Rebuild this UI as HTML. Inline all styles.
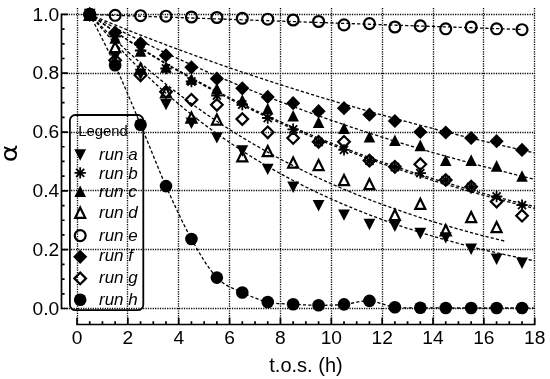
<!DOCTYPE html>
<html><head><meta charset="utf-8"><title>alpha vs t.o.s.</title>
<style>
html,body{margin:0;padding:0;background:#fff}
svg{display:block}
text{font-family:"Liberation Sans",sans-serif;fill:#000}
.g{stroke:#000;stroke-width:1.35;stroke-dasharray:1.2 1.2;fill:none}
.ax{stroke:#000;stroke-width:1.7;fill:none;stroke-linecap:butt}
.c{stroke:#000;stroke-width:1.3;stroke-dasharray:3.2 2.15;fill:none}
.m path,.m circle{fill:#000;stroke:none}
.m .o{fill:none;stroke:#000;stroke-width:2.2;stroke-linejoin:miter}
.m .s{fill:none;stroke:#000;stroke-width:1.8}
.tk{font-size:19.2px}
.lg{font-size:17px;font-style:italic}
</style></head><body>
<svg width="550" height="379" viewBox="0 0 550 379">
<rect width="550" height="379" fill="#fff"/>
<path class="g" d="M77.5 8V324.5M127.5 8V324.5M178.5 8V324.5M229.5 8V324.5M280.5 8V324.5M331.5 8V324.5M382.5 8V324.5M433.5 8V324.5M483.5 8V324.5M534.5 8V324.5M61.5 308.5H534.74M61.5 249.5H534.74M61.5 190.5H534.74M61.5 132.5H534.74M61.5 73.5H534.74M61.5 14.5H534.74"/>
<path class="c" d="M89.72 14.4L96.07 21.95L102.43 29.3L108.79 36.47L115.14 43.45L121.5 50.25L127.86 56.88L134.22 63.34L140.57 69.63L146.93 75.76L153.29 81.73L159.65 87.55L166 93.22L172.36 98.75L178.72 104.13L185.08 109.38L191.44 114.49L197.79 119.47L204.15 124.32L210.51 129.05L216.87 133.65L223.22 138.14L229.58 142.51L235.94 146.77L242.29 150.92L248.65 154.97L255.01 158.91L261.37 162.75L267.73 166.49L274.08 170.13L280.44 173.68L286.8 177.14L293.15 180.51L299.51 183.8L305.87 187L312.23 190.12L318.59 193.16L324.94 196.12L331.3 199L337.66 201.81L344.01 204.55L350.37 207.22L356.73 209.82L363.09 212.35L369.44 214.82L375.8 217.22L382.16 219.56L388.52 221.85L394.88 224.07L401.23 226.24L407.59 228.35L413.95 230.41L420.31 232.41L426.66 234.36L433.02 236.27L439.38 238.12L445.74 239.93L452.09 241.69L458.45 243.4L464.81 245.07L471.17 246.7L477.52 248.29L483.88 249.83L490.24 251.34L496.59 252.8L502.95 254.23L509.31 255.63L515.67 256.98L522.02 258.3L528.38 259.59L534.74 260.85"/>
<path class="c" d="M89.72 14.4L96.07 18.82L102.43 23.18L108.79 27.47L115.14 31.69L121.5 35.86L127.86 39.95L134.22 43.99L140.57 47.97L146.93 51.89L153.29 55.75L159.65 59.55L166 63.29L172.36 66.98L178.72 70.61L185.08 74.18L191.44 77.71L197.79 81.18L204.15 84.6L210.51 87.96L216.87 91.28L223.22 94.54L229.58 97.76L235.94 100.93L242.29 104.05L248.65 107.12L255.01 110.15L261.37 113.13L267.73 116.07L274.08 118.97L280.44 121.82L286.8 124.62L293.15 127.39L299.51 130.11L305.87 132.79L312.23 135.43L318.59 138.04L324.94 140.6L331.3 143.12L337.66 145.61L344.01 148.06L350.37 150.47L356.73 152.85L363.09 155.19L369.44 157.49L375.8 159.76L382.16 162L388.52 164.2L394.88 166.37L401.23 168.51L407.59 170.62L413.95 172.69L420.31 174.73L426.66 176.74L433.02 178.72L439.38 180.67L445.74 182.6L452.09 184.49L458.45 186.35L464.81 188.19L471.17 190L477.52 191.78L483.88 193.54L490.24 195.26L496.59 196.97L502.95 198.64L509.31 200.3L515.67 201.92L522.02 203.53L528.38 205.1L534.74 206.66"/>
<path class="c" d="M89.72 14.4L96.07 17.84L102.43 21.23L108.79 24.59L115.14 27.9L121.5 31.18L127.86 34.42L134.22 37.62L140.57 40.79L146.93 43.91L153.29 47L159.65 50.06L166 53.08L172.36 56.06L178.72 59.01L185.08 61.92L191.44 64.8L197.79 67.65L204.15 70.46L210.51 73.25L216.87 75.99L223.22 78.71L229.58 81.39L235.94 84.05L242.29 86.67L248.65 89.26L255.01 91.82L261.37 94.35L267.73 96.85L274.08 99.33L280.44 101.77L286.8 104.18L293.15 106.57L299.51 108.93L305.87 111.26L312.23 113.56L318.59 115.84L324.94 118.09L331.3 120.32L337.66 122.51L344.01 124.69L350.37 126.83L356.73 128.96L363.09 131.05L369.44 133.13L375.8 135.17L382.16 137.2L388.52 139.2L394.88 141.18L401.23 143.13L407.59 145.06L413.95 146.97L420.31 148.86L426.66 150.73L433.02 152.57L439.38 154.39L445.74 156.19L452.09 157.97L458.45 159.73L464.81 161.47L471.17 163.18L477.52 164.88L483.88 166.56L490.24 168.22L496.59 169.85L502.95 171.47L509.31 173.07L515.67 174.66L522.02 176.22L528.38 177.77L534.74 179.29"/>
<path class="c" d="M89.72 14.4L96.07 20.96L102.43 27.38L108.79 33.66L115.14 39.79L121.5 45.79L127.86 51.66L134.22 57.39L140.57 62.99L146.93 68.47L153.29 73.83L159.65 79.07L166 84.19L172.36 89.2L178.72 94.09L185.08 98.88L191.44 103.56L197.79 108.13L204.15 112.61L210.51 116.98L216.87 121.25L223.22 125.43L229.58 129.52L235.94 133.52L242.29 137.42L248.65 141.24L255.01 144.97L261.37 148.62L267.73 152.19L274.08 155.68L280.44 159.09L286.8 162.43L293.15 165.69L299.51 168.88L305.87 171.99L312.23 175.04L318.59 178.02L324.94 180.93L331.3 183.78L337.66 186.56L344.01 189.29L350.37 191.95L356.73 194.55L363.09 197.09L369.44 199.58L375.8 202.01L382.16 204.39L388.52 206.71L394.88 208.98L401.23 211.21L407.59 213.38L413.95 215.5L420.31 217.58L426.66 219.61L433.02 221.59L439.38 223.53L445.74 225.43L452.09 227.28L458.45 229.09L464.81 230.87L471.17 232.6L477.52 234.29L483.88 235.95L490.24 237.57L496.59 239.15L502.95 240.7L504.22 241.01"/>
<path class="c" d="M89.72 14.4L96.07 14.63L102.43 14.86L108.79 15.08L115.14 15.31L121.5 15.54L127.86 15.76L134.22 15.99L140.57 16.22L146.93 16.44L153.29 16.67L159.65 16.9L166 17.12L172.36 17.35L178.72 17.57L185.08 17.8L191.44 18.02L197.79 18.25L204.15 18.47L210.51 18.7L216.87 18.92L223.22 19.15L229.58 19.37L235.94 19.6L242.29 19.82L248.65 20.04L255.01 20.27L261.37 20.49L267.73 20.71L274.08 20.94L280.44 21.16L286.8 21.38L293.15 21.6L299.51 21.83L305.87 22.05L312.23 22.27L318.59 22.49L324.94 22.71L331.3 22.93L337.66 23.16L344.01 23.38L350.37 23.6L356.73 23.82L363.09 24.04L369.44 24.26L375.8 24.48L382.16 24.7L388.52 24.92L394.88 25.14L401.23 25.36L407.59 25.58L413.95 25.8L420.31 26.02L426.66 26.24L433.02 26.45L439.38 26.67L445.74 26.89L452.09 27.11L458.45 27.33L464.81 27.54L471.17 27.76L477.52 27.98L483.88 28.2L490.24 28.41L496.59 28.63L502.95 28.85L509.31 29.06L515.67 29.28L522.02 29.5"/>
<path class="c" d="M89.72 14.4L96.07 17.06L102.43 19.7L108.79 22.32L115.14 24.91L121.5 27.48L127.86 30.03L134.22 32.55L140.57 35.05L146.93 37.53L153.29 39.98L159.65 42.41L166 44.82L172.36 47.21L178.72 49.58L185.08 51.93L191.44 54.25L197.79 56.55L204.15 58.84L210.51 61.1L216.87 63.34L223.22 65.56L229.58 67.76L235.94 69.94L242.29 72.1L248.65 74.24L255.01 76.36L261.37 78.47L267.73 80.55L274.08 82.62L280.44 84.66L286.8 86.69L293.15 88.7L299.51 90.69L305.87 92.66L312.23 94.62L318.59 96.56L324.94 98.48L331.3 100.38L337.66 102.26L344.01 104.13L350.37 105.98L356.73 107.82L363.09 109.64L369.44 111.44L375.8 113.22L382.16 114.99L388.52 116.74L394.88 118.48L401.23 120.2L407.59 121.91L413.95 123.6L420.31 125.27L426.66 126.93L433.02 128.58L439.38 130.21L445.74 131.82L452.09 133.42L458.45 135.01L464.81 136.58L471.17 138.14L477.52 139.68L483.88 141.21L490.24 142.73L496.59 144.23L502.95 145.72L509.31 147.19L515.67 148.65L522.02 150.1L528.38 151.54L534.74 152.96"/>
<path class="c" d="M89.72 14.4L96.07 18.89L102.43 23.32L108.79 27.68L115.14 31.97L121.5 36.2L127.86 40.36L134.22 44.45L140.57 48.49L146.93 52.46L153.29 56.38L159.65 60.23L166 64.02L172.36 67.76L178.72 71.44L185.08 75.06L191.44 78.63L197.79 82.14L204.15 85.6L210.51 89.01L216.87 92.36L223.22 95.66L229.58 98.92L235.94 102.12L242.29 105.27L248.65 108.38L255.01 111.44L261.37 114.45L267.73 117.41L274.08 120.33L280.44 123.21L286.8 126.04L293.15 128.83L299.51 131.58L305.87 134.28L312.23 136.94L318.59 139.56L324.94 142.15L331.3 144.69L337.66 147.19L344.01 149.66L350.37 152.08L356.73 154.47L363.09 156.83L369.44 159.15L375.8 161.43L382.16 163.68L388.52 165.89L394.88 168.07L401.23 170.21L407.59 172.33L413.95 174.41L420.31 176.46L426.66 178.48L433.02 180.46L439.38 182.42L445.74 184.35L452.09 186.24L458.45 188.11L464.81 189.95L471.17 191.76L477.52 193.55L483.88 195.3L490.24 197.03L496.59 198.74L502.95 200.41L509.31 202.07L515.67 203.69L522.02 205.29L528.38 206.87L534.74 208.43"/>
<path class="c" d="M89.72 14.4C93.95 22.88 106.67 46.92 115.14 65.3C123.62 83.68 132.1 104.57 140.57 124.7C149.05 144.83 157.53 167.05 166 186.1C174.48 205.15 182.96 223.75 191.44 239C199.91 254.25 208.39 268.68 216.87 277.6C225.34 286.52 233.82 288.43 242.29 292.5C250.77 296.57 259.25 300.05 267.73 302C276.2 303.95 284.68 303.65 293.15 304.2C301.63 304.75 310.11 305.27 318.59 305.3C327.06 305.33 335.54 305.13 344.01 304.4C352.49 303.67 360.97 300.42 369.44 300.9C377.92 301.38 386.4 306.15 394.88 307.3C403.35 308.45 411.83 307.68 420.31 307.8C428.78 307.92 437.26 307.97 445.74 308C454.21 308.03 462.69 308 471.17 308C479.64 308 488.12 308 496.59 308C505.07 308 515.67 307.98 522.02 308C528.38 308.02 532.62 308.08 534.74 308.1"/>
<g class="m">
<path d="M83.81 8.7H95.62L89.72 20.1Z"/>
<path d="M109.24 51.2H121.05L115.14 62.6Z"/>
<path d="M134.67 68.7H146.47L140.57 80.1Z"/>
<path d="M160.1 98.9H171.91L166 110.3Z"/>
<path d="M185.53 117.6H197.34L191.44 129Z"/>
<path d="M210.97 132.2H222.77L216.87 143.6Z"/>
<path d="M236.39 145.3H248.19L242.29 156.7Z"/>
<path d="M261.83 163.7H273.62L267.73 175.1Z"/>
<path d="M287.25 181.5H299.05L293.15 192.9Z"/>
<path d="M312.69 200.1H324.49L318.59 211.5Z"/>
<path d="M338.12 209.4H349.91L344.01 220.8Z"/>
<path d="M363.55 218.8H375.34L369.44 230.2Z"/>
<path d="M388.98 220.6H400.77L394.88 232Z"/>
<path d="M414.41 227.8H426.2L420.31 239.2Z"/>
<path d="M439.84 232.2H451.63L445.74 243.6Z"/>
<path d="M465.27 243.6H477.06L471.17 255Z"/>
<path d="M490.69 253.5H502.49L496.59 264.9Z"/>
<path d="M516.12 257.5H527.92L522.02 268.9Z"/>
<path class="s" d="M84.02 14.4H95.42M89.72 8.7V20.1M85.68 10.37L93.75 18.43M85.68 18.43L93.75 10.37"/>
<path class="s" d="M109.44 36.5H120.84M115.14 30.8V42.2M111.11 32.47L119.18 40.53M111.11 40.53L119.18 32.47"/>
<path class="s" d="M134.88 50.5H146.27M140.57 44.8V56.2M136.54 46.47L144.61 54.53M136.54 54.53L144.61 46.47"/>
<path class="s" d="M160.31 68.5H171.7M166 62.8V74.2M161.97 64.47L170.04 72.53M161.97 72.53L170.04 64.47"/>
<path class="s" d="M185.74 81.5H197.13M191.44 75.8V87.2M187.4 77.47L195.47 85.53M187.4 85.53L195.47 77.47"/>
<path class="s" d="M211.17 95.5H222.56M216.87 89.8V101.2M212.83 91.47L220.9 99.53M212.83 99.53L220.9 91.47"/>
<path class="s" d="M236.59 104.5H247.99M242.29 98.8V110.2M238.26 100.47L246.33 108.53M238.26 108.53L246.33 100.47"/>
<path class="s" d="M262.03 118H273.43M267.73 112.3V123.7M263.69 113.97L271.76 122.03M263.69 122.03L271.76 113.97"/>
<path class="s" d="M287.45 129.3H298.85M293.15 123.6V135M289.12 125.27L297.19 133.33M289.12 133.33L297.19 125.27"/>
<path class="s" d="M312.89 142H324.29M318.59 136.3V147.7M314.55 137.97L322.62 146.03M314.55 146.03L322.62 137.97"/>
<path class="s" d="M338.31 149.9H349.71M344.01 144.2V155.6M339.98 145.87L348.05 153.93M339.98 153.93L348.05 145.87"/>
<path class="s" d="M363.75 160.8H375.14M369.44 155.1V166.5M365.41 156.77L373.48 164.83M365.41 164.83L373.48 156.77"/>
<path class="s" d="M389.18 167H400.57M394.88 161.3V172.7M390.84 162.97L398.91 171.03M390.84 171.03L398.91 162.97"/>
<path class="s" d="M414.61 173.1H426M420.31 167.4V178.8M416.27 169.07L424.34 177.13M416.27 177.13L424.34 169.07"/>
<path class="s" d="M440.04 180.2H451.44M445.74 174.5V185.9M441.7 176.17L449.77 184.23M441.7 184.23L449.77 176.17"/>
<path class="s" d="M465.47 186.9H476.87M471.17 181.2V192.6M467.13 182.87L475.2 190.93M467.13 190.93L475.2 182.87"/>
<path class="s" d="M490.89 196.5H502.29M496.59 190.8V202.2M492.56 192.47L500.63 200.53M492.56 200.53L500.63 192.47"/>
<path class="s" d="M516.32 205.1H527.73M522.02 199.4V210.8M517.99 201.07L526.06 209.13M517.99 209.13L526.06 201.07"/>
<path d="M83.92 20.2H95.52L89.72 8.6Z"/>
<path d="M109.34 43.8H120.94L115.14 32.2Z"/>
<path d="M134.77 56.8H146.38L140.57 45.2Z"/>
<path d="M160.2 72.8H171.81L166 61.2Z"/>
<path d="M185.63 84.8H197.24L191.44 73.2Z"/>
<path d="M211.06 94.3H222.67L216.87 82.7Z"/>
<path d="M236.49 105.8H248.09L242.29 94.2Z"/>
<path d="M261.93 114.4H273.53L267.73 102.8Z"/>
<path d="M287.35 121.5H298.95L293.15 109.9Z"/>
<path d="M312.79 128H324.39L318.59 116.4Z"/>
<path d="M338.21 134.1H349.81L344.01 122.5Z"/>
<path d="M363.64 142.5H375.25L369.44 130.9Z"/>
<path d="M389.07 146H400.68L394.88 134.4Z"/>
<path d="M414.5 151.2H426.11L420.31 139.6Z"/>
<path d="M439.94 166H451.54L445.74 154.4Z"/>
<path d="M465.37 165.9H476.97L471.17 154.3Z"/>
<path d="M490.79 171.7H502.39L496.59 160.1Z"/>
<path d="M516.23 181.8H527.82L522.02 170.2Z"/>
<path class="o" d="M84.72 19.8H94.72L89.72 9.6Z"/>
<path class="o" d="M110.14 52.1H120.14L115.14 41.9Z"/>
<path class="o" d="M135.57 73.7H145.57L140.57 63.5Z"/>
<path class="o" d="M161 97.4H171L166 87.2Z"/>
<path class="o" d="M186.44 122.6H196.44L191.44 112.4Z"/>
<path class="o" d="M211.87 124.6H221.87L216.87 114.4Z"/>
<path class="o" d="M237.29 161.3H247.29L242.29 151.1Z"/>
<path class="o" d="M262.73 156.2H272.73L267.73 146Z"/>
<path class="o" d="M288.15 167.6H298.15L293.15 157.4Z"/>
<path class="o" d="M313.59 170.1H323.59L318.59 159.9Z"/>
<path class="o" d="M339.01 185.1H349.01L344.01 174.9Z"/>
<path class="o" d="M364.44 189.1H374.44L369.44 178.9Z"/>
<path class="o" d="M389.88 220H399.88L394.88 209.8Z"/>
<path class="o" d="M415.31 208.9H425.31L420.31 198.7Z"/>
<path class="o" d="M440.74 235.3H450.74L445.74 225.1Z"/>
<path class="o" d="M466.17 222.1H476.17L471.17 211.9Z"/>
<path class="o" d="M491.59 232.1H501.59L496.59 221.9Z"/>
<circle class="o" cx="89.72" cy="14.4" r="5.45"/>
<circle class="o" cx="115.14" cy="15.3" r="5.45"/>
<circle class="o" cx="140.57" cy="15.7" r="5.45"/>
<circle class="o" cx="166" cy="16.2" r="5.45"/>
<circle class="o" cx="191.44" cy="17" r="5.45"/>
<circle class="o" cx="216.87" cy="17.5" r="5.45"/>
<circle class="o" cx="242.29" cy="18.3" r="5.45"/>
<circle class="o" cx="267.73" cy="19.2" r="5.45"/>
<circle class="o" cx="293.15" cy="20" r="5.45"/>
<circle class="o" cx="318.59" cy="21.5" r="5.45"/>
<circle class="o" cx="344.01" cy="24.9" r="5.45"/>
<circle class="o" cx="369.44" cy="23.6" r="5.45"/>
<circle class="o" cx="394.88" cy="27" r="5.45"/>
<circle class="o" cx="420.31" cy="25.9" r="5.45"/>
<circle class="o" cx="445.74" cy="28.8" r="5.45"/>
<circle class="o" cx="471.17" cy="27" r="5.45"/>
<circle class="o" cx="496.59" cy="28.8" r="5.45"/>
<circle class="o" cx="522.02" cy="29.7" r="5.45"/>
<path d="M82.62 14.4L89.72 7.3L96.81 14.4L89.72 21.5Z"/>
<path d="M108.05 32.6L115.14 25.5L122.24 32.6L115.14 39.7Z"/>
<path d="M133.47 43.3L140.57 36.2L147.67 43.3L140.57 50.4Z"/>
<path d="M158.91 55.4L166 48.3L173.1 55.4L166 62.5Z"/>
<path d="M184.34 67.3L191.44 60.2L198.53 67.3L191.44 74.4Z"/>
<path d="M209.77 78.7L216.87 71.6L223.97 78.7L216.87 85.8Z"/>
<path d="M235.19 88.3L242.29 81.2L249.39 88.3L242.29 95.4Z"/>
<path d="M260.62 96.9L267.73 89.8L274.83 96.9L267.73 104Z"/>
<path d="M286.05 103.2L293.15 96.1L300.25 103.2L293.15 110.3Z"/>
<path d="M311.49 111.2L318.59 104.1L325.69 111.2L318.59 118.3Z"/>
<path d="M336.91 108.2L344.01 101.1L351.12 108.2L344.01 115.3Z"/>
<path d="M362.34 114.7L369.44 107.6L376.55 114.7L369.44 121.8Z"/>
<path d="M387.77 121L394.88 113.9L401.98 121L394.88 128.1Z"/>
<path d="M413.2 132L420.31 124.9L427.41 132L420.31 139.1Z"/>
<path d="M438.63 132.5L445.74 125.4L452.84 132.5L445.74 139.6Z"/>
<path d="M464.06 138L471.17 130.9L478.27 138L471.17 145.1Z"/>
<path d="M489.49 141.2L496.59 134.1L503.69 141.2L496.59 148.3Z"/>
<path d="M514.92 149.9L522.02 142.8L529.12 149.9L522.02 157Z"/>
<path class="o" d="M83.92 14.4L89.72 8.6L95.52 14.4L89.72 20.2Z"/>
<path class="o" d="M109.34 60.3L115.14 54.5L120.94 60.3L115.14 66.1Z"/>
<path class="o" d="M134.77 75.3L140.57 69.5L146.38 75.3L140.57 81.1Z"/>
<path class="o" d="M160.2 91.8L166 86L171.81 91.8L166 97.6Z"/>
<path class="o" d="M185.63 99.8L191.44 94L197.24 99.8L191.44 105.6Z"/>
<path class="o" d="M211.06 104.8L216.87 99L222.67 104.8L216.87 110.6Z"/>
<path class="o" d="M236.49 119.1L242.29 113.3L248.09 119.1L242.29 124.9Z"/>
<path class="o" d="M261.93 132.3L267.73 126.5L273.53 132.3L267.73 138.1Z"/>
<path class="o" d="M287.35 138L293.15 132.2L298.95 138L293.15 143.8Z"/>
<path class="o" d="M312.79 141.8L318.59 136L324.39 141.8L318.59 147.6Z"/>
<path class="o" d="M338.21 141.8L344.01 136L349.81 141.8L344.01 147.6Z"/>
<path class="o" d="M363.64 160.6L369.44 154.8L375.25 160.6L369.44 166.4Z"/>
<path class="o" d="M389.07 166.8L394.88 161L400.68 166.8L394.88 172.6Z"/>
<path class="o" d="M414.5 164.2L420.31 158.4L426.11 164.2L420.31 170Z"/>
<path class="o" d="M439.94 180L445.74 174.2L451.54 180L445.74 185.8Z"/>
<path class="o" d="M465.37 186.7L471.17 180.9L476.97 186.7L471.17 192.5Z"/>
<path class="o" d="M490.79 201.6L496.59 195.8L502.39 201.6L496.59 207.4Z"/>
<path class="o" d="M516.23 215.7L522.02 209.9L527.82 215.7L522.02 221.5Z"/>
<circle cx="89.72" cy="14.4" r="6.3"/>
<circle cx="115.14" cy="65.3" r="6.3"/>
<circle cx="140.57" cy="124.7" r="6.3"/>
<circle cx="166" cy="186.1" r="6.3"/>
<circle cx="191.44" cy="239" r="6.3"/>
<circle cx="216.87" cy="277.6" r="6.3"/>
<circle cx="242.29" cy="292.5" r="6.3"/>
<circle cx="267.73" cy="302" r="6.3"/>
<circle cx="293.15" cy="304.2" r="6.3"/>
<circle cx="318.59" cy="305.3" r="6.3"/>
<circle cx="344.01" cy="304.4" r="6.3"/>
<circle cx="369.44" cy="300.9" r="6.3"/>
<circle cx="394.88" cy="307.3" r="6.3"/>
<circle cx="420.31" cy="307.8" r="6.3"/>
<circle cx="445.74" cy="308" r="6.3"/>
<circle cx="471.17" cy="308" r="6.3"/>
<circle cx="496.59" cy="308" r="6.3"/>
<circle cx="522.02" cy="308" r="6.3"/>
</g>
<path class="ax" d="M61.5 13.55V309.35M76.15 324.5H535.59M61.5 308.5h6.4M61.5 293.8h3.1M61.5 279.09h3.1M61.5 264.38h3.1M61.5 249.68h6.4M61.5 234.97h3.1M61.5 220.27h3.1M61.5 205.56h3.1M61.5 190.86h6.4M61.5 176.15h3.1M61.5 161.45h3.1M61.5 146.74h3.1M61.5 132.04h6.4M61.5 117.33h3.1M61.5 102.63h3.1M61.5 87.92h3.1M61.5 73.22h6.4M61.5 58.51h3.1M61.5 43.81h3.1M61.5 29.1h3.1M61.5 14.4h6.4M77 324.5v-6.8M89.72 324.5v-3.3M102.43 324.5v-3.3M115.14 324.5v-3.3M127.86 324.5v-6.8M140.57 324.5v-3.3M153.29 324.5v-3.3M166 324.5v-3.3M178.72 324.5v-6.8M191.44 324.5v-3.3M204.15 324.5v-3.3M216.87 324.5v-3.3M229.58 324.5v-6.8M242.29 324.5v-3.3M255.01 324.5v-3.3M267.73 324.5v-3.3M280.44 324.5v-6.8M293.15 324.5v-3.3M305.87 324.5v-3.3M318.59 324.5v-3.3M331.3 324.5v-6.8M344.01 324.5v-3.3M356.73 324.5v-3.3M369.44 324.5v-3.3M382.16 324.5v-6.8M394.88 324.5v-3.3M407.59 324.5v-3.3M420.31 324.5v-3.3M433.02 324.5v-6.8M445.74 324.5v-3.3M458.45 324.5v-3.3M471.17 324.5v-3.3M483.88 324.5v-6.8M496.59 324.5v-3.3M509.31 324.5v-3.3M522.02 324.5v-3.3M534.74 324.5v-6.8"/>
<text class="tk" x="59.3" y="314.7" text-anchor="end">0.0</text>
<text class="tk" x="59.3" y="255.88" text-anchor="end">0.2</text>
<text class="tk" x="59.3" y="197.06" text-anchor="end">0.4</text>
<text class="tk" x="59.3" y="138.24" text-anchor="end">0.6</text>
<text class="tk" x="59.3" y="79.42" text-anchor="end">0.8</text>
<text class="tk" x="59.3" y="20.6" text-anchor="end">1.0</text>
<text class="tk" x="77" y="344" text-anchor="middle">0</text>
<text class="tk" x="127.86" y="344" text-anchor="middle">2</text>
<text class="tk" x="178.72" y="344" text-anchor="middle">4</text>
<text class="tk" x="229.58" y="344" text-anchor="middle">6</text>
<text class="tk" x="280.44" y="344" text-anchor="middle">8</text>
<text class="tk" x="331.3" y="344" text-anchor="middle">10</text>
<text class="tk" x="382.16" y="344" text-anchor="middle">12</text>
<text class="tk" x="433.02" y="344" text-anchor="middle">14</text>
<text class="tk" x="483.88" y="344" text-anchor="middle">16</text>
<text class="tk" x="534.74" y="344" text-anchor="middle">18</text>
<text x="306" y="371.6" text-anchor="middle" font-size="20">t.o.s. (h)</text>
<text transform="translate(16.9 153.2) rotate(-90) scale(1.22 1)" text-anchor="middle" style="font-family:'DejaVu Sans','Liberation Sans',sans-serif" font-size="22.3">α</text>
<rect x="69.9" y="115" width="73.4" height="195.2" rx="5.5" ry="5.5" fill="none" stroke="#000" stroke-width="1.8"/>
<text x="78.3" y="135.8" font-size="14.8">Legend</text>
<g class="m">
<path d="M74.3 149.3H86.1L80.2 160.7Z"/>
<path class="s" d="M74.5 172.9H85.9M80.2 167.2V178.6M76.17 168.87L84.23 176.93M76.17 176.93L84.23 168.87"/>
<path d="M74.4 197H86L80.2 185.4Z"/>
<path class="o" d="M75.2 217.8H85.2L80.2 207.6Z"/>
<circle class="o" cx="80.2" cy="235.6" r="5.45"/>
<path d="M73.1 256.8L80.2 249.7L87.3 256.8L80.2 263.9Z"/>
<path class="o" d="M74.4 278.4L80.2 272.6L86 278.4L80.2 284.2Z"/>
<circle cx="80.2" cy="299.7" r="6.3"/>
</g>
<text class="lg" x="99" y="159.7">run a</text>
<text class="lg" x="99" y="178.5">run b</text>
<text class="lg" x="99" y="197">run c</text>
<text class="lg" x="99" y="218.3">run d</text>
<text class="lg" x="99" y="240.8">run e</text>
<text class="lg" x="99" y="261.4">run f</text>
<text class="lg" x="99" y="282.7">run g</text>
<text class="lg" x="99" y="304.9">run h</text>
</svg></body></html>
